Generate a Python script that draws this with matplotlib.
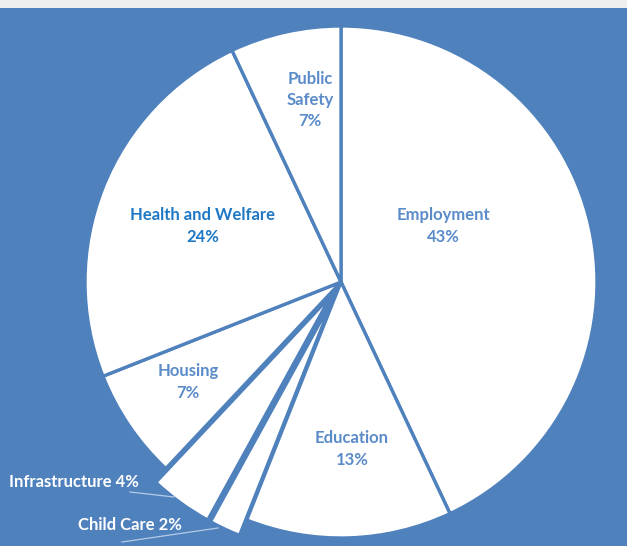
import matplotlib
matplotlib.use("Agg")
import matplotlib.pyplot as plt
from matplotlib.patches import Rectangle

# slices, clockwise from 12 o'clock
categories = ["Employment", "Education", "Child Care", "Infrastructure",
              "Housing", "Health and Welfare", "Public Safety"]
shares = [43, 13, 2, 4, 7, 24, 7]
label_text = ["Employment\n43%", "Education\n13%", "Child Care 2%",
              "Infrastructure 4%", "Housing\n7%", "Health and Welfare\n24%",
              "Public\nSafety\n7%"]

BG = "#4F81BD"
W, H = 627, 546

fig = plt.figure(figsize=(W / 100, H / 100), dpi=100, facecolor=BG)
ax = fig.add_axes([0, 0, 1, 1])

cx, cy, r = 341, H - 282, 256
# explode is in data units (pixels here), not a fraction of the radius
explode = [0, 0, 17, 17, 0, 0, 0]
wedges, _ = ax.pie(shares, radius=r, center=(cx, cy), startangle=90,
                   counterclock=False, explode=explode, frame=True,
                   wedgeprops=dict(facecolor="white", edgecolor=BG, linewidth=2.4))

ax.set_xlim(0, W)
ax.set_ylim(0, H)
ax.set_aspect("auto")
ax.axis("off")

# label placement in pixel coords (x, y from top)
label_pos = {
    "Employment": (443, 226, "center"),
    "Education": (352, 449, "center"),
    "Child Care": (130, 525, "center"),
    "Infrastructure": (9, 482, "left"),
    "Housing": (188, 382, "center"),
    "Health and Welfare": (203, 226, "center"),
    "Public Safety": (310, 100, "center"),
}
for cat, txt in zip(categories, label_text):
    x, y, ha = label_pos[cat]
    if cat in ("Child Care", "Infrastructure"):
        col = "white"
    elif cat == "Health and Welfare":
        col = "#1F78C4"
    else:
        col = "#5B8CC9"
    ax.text(x, H - y, txt, ha=ha, va="center", color=col, fontsize=12,
            fontweight="bold", family="Lato", linespacing=1.4)

# leader lines for the outside labels
ax.plot([130, 174], [H - 492, H - 497], color="#B4CBE8", lw=0.9)
ax.plot([122, 218], [H - 542, H - 528], color="#B4CBE8", lw=0.9)

# light strip along the top edge
fig.patches.append(Rectangle((0, 1 - 8 / H), 1, 8 / H, transform=fig.transFigure,
                             facecolor="#EFEFEF", edgecolor="none"))

fig.savefig("out.png", dpi=100, facecolor=BG)
